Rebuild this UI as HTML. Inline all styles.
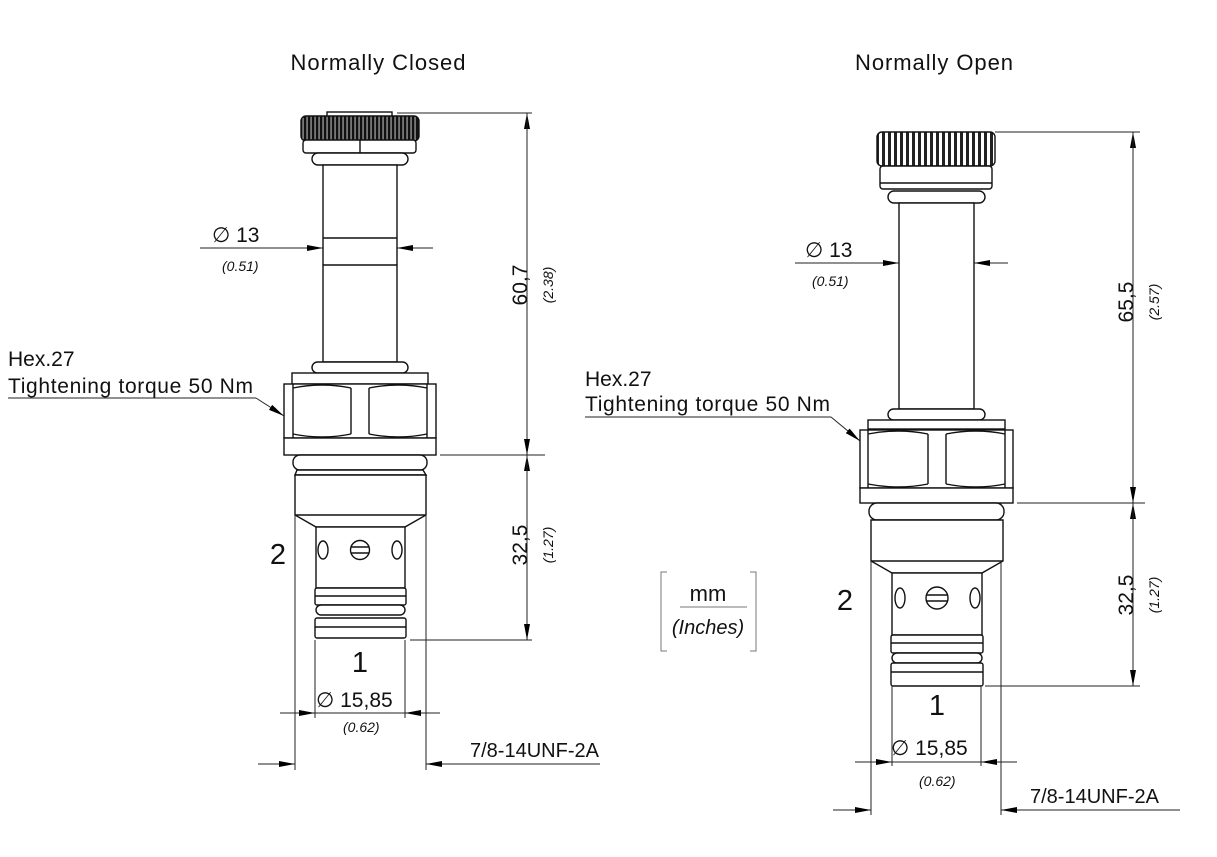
<!DOCTYPE html>
<html><head><meta charset="utf-8"><style>
html,body{margin:0;padding:0;background:#fff}
svg{display:block}
text{font-family:"Liberation Sans",sans-serif;fill:#111}
.it{font-style:italic}
</style></head><body>
<svg width="1217" height="857" viewBox="0 0 1217 857" xmlns="http://www.w3.org/2000/svg">
<defs>
<pattern id="kn" width="4" height="10" patternUnits="userSpaceOnUse">
<rect width="4" height="10" fill="#111"/><rect x="2.6" width="0.9" height="10" fill="#ddd"/>
</pattern>
<pattern id="kn2" width="6" height="10" patternUnits="userSpaceOnUse">
<rect width="6" height="10" fill="#fff"/><rect x="0" width="3" height="10" fill="#222"/>
</pattern>
<marker id="a" viewBox="0 0 16 6" refX="16" refY="3" markerWidth="16" markerHeight="6" markerUnits="userSpaceOnUse" orient="auto"><path d="M0,0L16,3L0,6Z" fill="#000"/></marker>
</defs>
<g fill="none" stroke="#111" stroke-width="1.4">
<!-- LEFT VALVE -->
<rect x="327" y="112" width="65" height="5" fill="#fff"/>
<rect x="301" y="116" width="118" height="25" rx="5" fill="url(#kn)"/>
<rect x="303" y="140" width="113" height="13" rx="3" fill="#fff"/>
<line x1="360" y1="140" x2="360" y2="153"/>
<rect x="312" y="153" width="96" height="12" rx="6" fill="#fff"/>
<rect x="323" y="165" width="74" height="197" fill="#fff"/>
<line x1="323" y1="238" x2="397" y2="238"/><line x1="323" y1="265" x2="397" y2="265"/>
<rect x="312" y="362" width="96" height="11" rx="5.5" fill="#fff"/>
<rect x="292" y="373" width="136" height="11" fill="#fff"/>
<rect x="284" y="384" width="152" height="54" fill="#fff"/>
<line x1="293" y1="384" x2="293" y2="438"/><line x1="427" y1="384" x2="427" y2="438"/>
<line x1="351" y1="388" x2="351" y2="434"/><line x1="369" y1="388" x2="369" y2="434"/>
<path d="M293,388 Q322,382 351,388 M369,388 Q398,382 427,388 M293,434 Q322,440 351,434 M369,434 Q398,440 427,434"/>
<rect x="284" y="438" width="152" height="17" fill="#fff"/>
<rect x="293" y="455" width="134" height="15" rx="7" fill="#fff"/>
<path d="M297,470 L423,470 L426,475 L295,475 Z" fill="#fff"/>
<path d="M295,475 H426 V515 L405,527 H316 L295,515 Z" fill="#fff"/>
<line x1="295" y1="515" x2="426" y2="515"/>
<rect x="316" y="527" width="89" height="61" fill="#fff"/>
<ellipse cx="323" cy="550" rx="5" ry="9"/><ellipse cx="397" cy="550" rx="5" ry="9"/>
<circle cx="360" cy="550" r="9.5"/><line x1="351" y1="547" x2="369" y2="547"/><line x1="351" y1="553" x2="369" y2="553"/>
<rect x="315" y="588" width="91" height="17" rx="2" fill="#fff"/><line x1="315" y1="596" x2="406" y2="596"/>
<rect x="316" y="605" width="89" height="10" rx="5" fill="#fff"/>
<rect x="315" y="618" width="91" height="20" rx="2" fill="#fff"/><line x1="315" y1="627" x2="406" y2="627"/>
<!-- RIGHT VALVE -->
<rect x="877" y="132" width="118" height="34" rx="5" fill="url(#kn2)"/>
<rect x="880" y="166" width="112" height="23" rx="3" fill="#fff"/>
<line x1="880" y1="183" x2="992" y2="183"/>
<rect x="888" y="191" width="97" height="12" rx="6" fill="#fff"/>
<rect x="899" y="203" width="75" height="206" fill="#fff"/>
<rect x="888" y="409" width="97" height="11" rx="5.5" fill="#fff"/>
<rect x="868" y="420" width="137" height="9" fill="#fff"/>
<rect x="860" y="430" width="153" height="58" fill="#fff"/>
<line x1="868" y1="430" x2="868" y2="488"/><line x1="1005" y1="430" x2="1005" y2="488"/>
<line x1="928" y1="434" x2="928" y2="484"/><line x1="946" y1="434" x2="946" y2="484"/>
<path d="M868,434 Q898,428 928,434 M946,434 Q976,428 1005,434 M868,484 Q898,490 928,484 M946,484 Q976,490 1005,484"/>
<rect x="860" y="488" width="153" height="15" fill="#fff"/>
<rect x="869" y="503" width="135" height="17" rx="8" fill="#fff"/>
<path d="M871,520 H1003 V561 L982,573 H892 L871,561 Z" fill="#fff"/>
<line x1="871" y1="561" x2="1003" y2="561"/>
<rect x="892" y="573" width="90" height="62" fill="#fff"/>
<ellipse cx="900" cy="598" rx="5" ry="10"/><ellipse cx="975" cy="598" rx="5" ry="10"/>
<circle cx="937" cy="598" r="11"/><line x1="926" y1="595" x2="948" y2="595"/><line x1="926" y1="601" x2="948" y2="601"/>
<rect x="891" y="635" width="92" height="18" rx="2" fill="#fff"/><line x1="891" y1="643" x2="983" y2="643"/>
<rect x="892" y="653" width="90" height="10" rx="5" fill="#fff"/>
<rect x="891" y="663" width="92" height="23" rx="2" fill="#fff"/><line x1="891" y1="672" x2="983" y2="672"/>
</g>
<g stroke="#222" stroke-width="1" fill="none">
<line x1="397" y1="113" x2="532" y2="113"/><line x1="440" y1="455" x2="545" y2="455"/><line x1="410" y1="640" x2="532" y2="640"/>
<line x1="527" y1="455" x2="527" y2="113" marker-end="url(#a)"/><line x1="527" y1="113" x2="527" y2="455" marker-end="url(#a)"/>
<line x1="527" y1="640" x2="527" y2="455" marker-end="url(#a)"/><line x1="527" y1="455" x2="527" y2="640" marker-end="url(#a)"/>
<line x1="200" y1="248" x2="323" y2="248" marker-end="url(#a)"/><line x1="433" y1="248" x2="397" y2="248" marker-end="url(#a)"/>
<line x1="295" y1="515" x2="295" y2="770"/><line x1="426" y1="515" x2="426" y2="770"/>
<line x1="315" y1="640" x2="315" y2="718"/><line x1="405" y1="640" x2="405" y2="718"/>
<line x1="280" y1="713" x2="315" y2="713" marker-end="url(#a)"/><line x1="440" y1="713" x2="405" y2="713" marker-end="url(#a)"/><line x1="315" y1="713" x2="405" y2="713"/>
<line x1="258" y1="764" x2="295" y2="764" marker-end="url(#a)"/><line x1="600" y1="764" x2="426" y2="764" marker-end="url(#a)"/>
<line x1="8" y1="398" x2="256" y2="398"/><line x1="256" y1="398" x2="284" y2="416" marker-end="url(#a)"/>
<line x1="995" y1="132" x2="1140" y2="132"/><line x1="1017" y1="503" x2="1145" y2="503"/><line x1="985" y1="686" x2="1140" y2="686"/>
<line x1="1133" y1="503" x2="1133" y2="132" marker-end="url(#a)"/><line x1="1133" y1="132" x2="1133" y2="503" marker-end="url(#a)"/>
<line x1="1133" y1="686" x2="1133" y2="503" marker-end="url(#a)"/><line x1="1133" y1="503" x2="1133" y2="686" marker-end="url(#a)"/>
<line x1="795" y1="263" x2="899" y2="263" marker-end="url(#a)"/><line x1="1008" y1="263" x2="974" y2="263" marker-end="url(#a)"/>
<line x1="871" y1="561" x2="871" y2="815"/><line x1="1001" y1="561" x2="1001" y2="815"/>
<line x1="892" y1="686" x2="892" y2="766"/><line x1="981" y1="686" x2="981" y2="766"/>
<line x1="855" y1="762" x2="892" y2="762" marker-end="url(#a)"/><line x1="1017" y1="762" x2="981" y2="762" marker-end="url(#a)"/><line x1="892" y1="762" x2="981" y2="762"/>
<line x1="833" y1="810" x2="871" y2="810" marker-end="url(#a)"/><line x1="1180" y1="810" x2="1001" y2="810" marker-end="url(#a)"/>
<line x1="585" y1="417" x2="831" y2="417"/><line x1="831" y1="417" x2="860" y2="441" marker-end="url(#a)"/>
<path d="M667,572 H661 V651 H667 M750,572 H756 V651 H750" stroke="#777"/>
<line x1="680" y1="607" x2="747" y2="607" stroke="#777"/>
</g>
<text x="378" y="70" font-size="22" text-anchor="middle" textLength="175">Normally Closed</text>
<text x="934" y="70" font-size="22" text-anchor="middle" textLength="158">Normally Open</text>
<text x="212" y="242" font-size="21">∅ 13</text>
<text x="222" y="271" font-size="14" class="it">(0.51)</text>
<text x="805" y="257" font-size="21">∅ 13</text>
<text x="812" y="286" font-size="14" class="it">(0.51)</text>
<text font-size="21" transform="translate(527,285) rotate(-90)" text-anchor="middle">60,7</text>
<text font-size="14" class="it" transform="translate(553,285) rotate(-90)" text-anchor="middle">(2.38)</text>
<text font-size="21" transform="translate(527,545) rotate(-90)" text-anchor="middle">32,5</text>
<text font-size="14" class="it" transform="translate(553,545) rotate(-90)" text-anchor="middle">(1.27)</text>
<text font-size="21" transform="translate(1133,302) rotate(-90)" text-anchor="middle">65,5</text>
<text font-size="14" class="it" transform="translate(1159,302) rotate(-90)" text-anchor="middle">(2.57)</text>
<text font-size="21" transform="translate(1133,595) rotate(-90)" text-anchor="middle">32,5</text>
<text font-size="14" class="it" transform="translate(1159,595) rotate(-90)" text-anchor="middle">(1.27)</text>
<text x="8" y="366" font-size="21">Hex.27</text>
<text x="8" y="393" font-size="21" textLength="245">Tightening torque 50 Nm</text>
<text x="585" y="386" font-size="21">Hex.27</text>
<text x="585" y="411" font-size="21" textLength="245">Tightening torque 50 Nm</text>
<text x="278" y="564" font-size="29" text-anchor="middle">2</text>
<text x="360" y="672" font-size="29" text-anchor="middle">1</text>
<text x="845" y="610" font-size="29" text-anchor="middle">2</text>
<text x="937" y="715" font-size="29" text-anchor="middle">1</text>
<text x="316" y="707" font-size="21">∅ 15,85</text>
<text x="343" y="732" font-size="14" class="it">(0.62)</text>
<text x="891" y="755" font-size="21">∅ 15,85</text>
<text x="919" y="786" font-size="14" class="it">(0.62)</text>
<text x="470" y="757" font-size="20">7/8-14UNF-2A</text>
<text x="1030" y="803" font-size="20">7/8-14UNF-2A</text>
<text x="708" y="601" font-size="22" text-anchor="middle" fill="#444">mm</text>
<text x="708" y="634" font-size="20" text-anchor="middle" class="it" fill="#444">(Inches)</text>
</svg>
</body></html>
